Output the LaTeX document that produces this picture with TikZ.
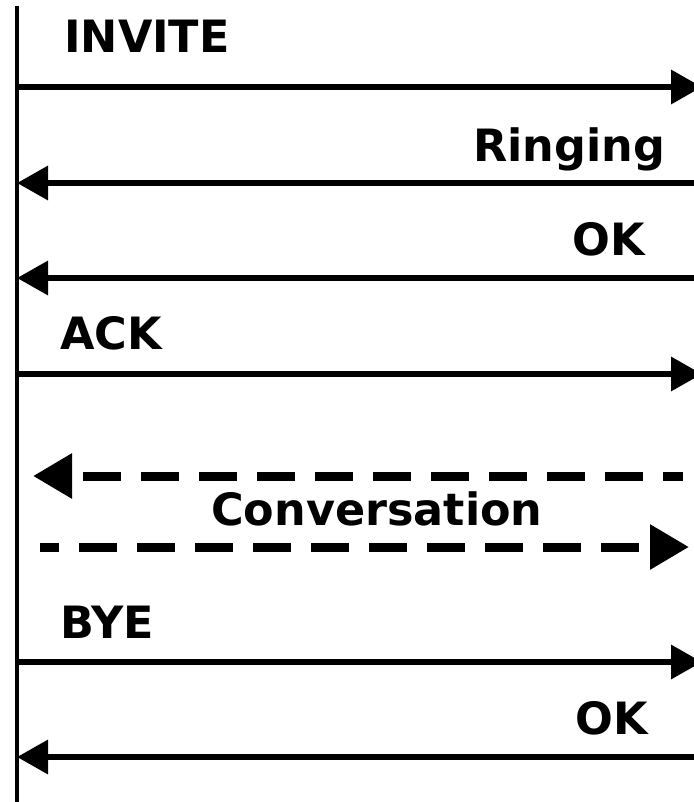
\documentclass[tikz,border=0pt]{standalone}
\usepackage{fontspec}
\setmainfont{DejaVu Sans}
\usetikzlibrary{arrows.meta}

\begin{document}
\begin{tikzpicture}[x=1pt,y=-1pt]
  \tikzset{msg/.style = {line width=6.5pt, -{Triangle[length=31pt,width=33pt]}},
           talk/.style = {line width=9pt, dash pattern=on 38pt off 20pt,
                          -{Triangle[length=39pt,width=43pt]}},
           lbl/.style = {anchor=base west, inner sep=0pt,
                         font=\fontsize{44.5}{53}\selectfont\bfseries}}
  \useasboundingbox (0,0) rectangle (693,802);
  % lifeline
  \coordinate (top) at (17,6);
  \coordinate (bot) at (17,810);
  \draw[line width=4.5pt] (top) -- (bot);
  \foreach \n/\y in {1/87, 2/183, 3/278, 4/374, 5/662, 6/757} {
    \coordinate (l\n) at (17,\y);
    \coordinate (r\n) at (702,\y);
  }
  \coordinate (cl1) at (683,476);
  \coordinate (cl2) at (33,476);
  \coordinate (cr1) at (40,547);
  \coordinate (cr2) at (689,547);
  % messages
  \draw[msg] (l1) -- (r1);
  \draw[msg] (r2) -- (l2);
  \draw[msg] (r3) -- (l3);
  \draw[msg] (l4) -- (r4);
  \draw[talk, dash phase=18pt] (cl1) -- (cl2);
  \draw[talk, dash phase=19pt] (cr1) -- (cr2);
  \draw[msg] (l5) -- (r5);
  \draw[msg] (r6) -- (l6);
  % labels
  \node[lbl] (invite) at (64,53) {INVITE};
  \node[lbl] (ringing) at (473,162) {Ringing};
  \node[lbl] (ok1) at (572,255) {OK};
  \node[lbl] (ack) at (60,349) {ACK};
  \node[lbl] (conv) at (211,525) {Conversation};
  \node[lbl] (bye) at (60,638) {BYE};
  \node[lbl] (ok2) at (575,734) {OK};
\end{tikzpicture}
\end{document}
